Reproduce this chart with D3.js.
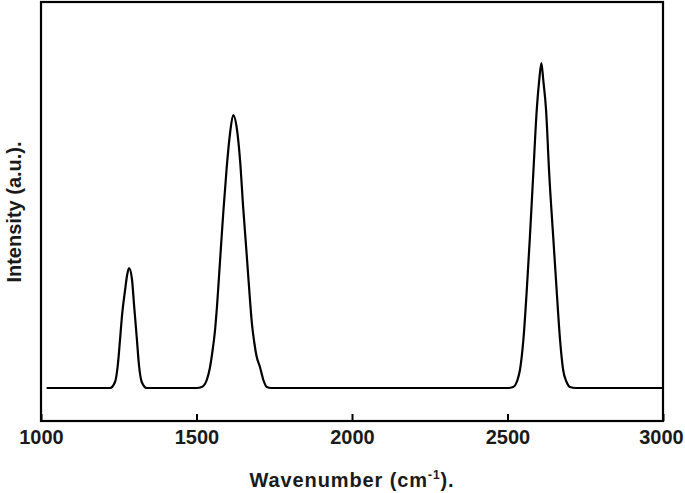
<!DOCTYPE html>
<html>
<head>
<meta charset="utf-8">
<script src="https://cdn.jsdelivr.net/npm/d3@7"></script>
<style>
  body { margin: 0; background: #fff; }
  svg { display: block; }
  .tick text { font-family: "Liberation Sans", Arial, sans-serif; font-weight: bold; font-size: 20px; fill: #1a1a1a; }
</style>
</head>
<body>
<div id="plot"></div>
<script>
// spectrum (wavenumber in cm-1, intensity in a.u.)
var wavenumber = [1018, 1200, 1222, 1238, 1247, 1254, 1261, 1270, 1277, 1283, 1292, 1300, 1308, 1315, 1324, 1340, 1360,
                  1500, 1517, 1533, 1543, 1551, 1559, 1566, 1575, 1586, 1597, 1608, 1618, 1629, 1640, 1650, 1661, 1672, 1678, 1686, 1693, 1704, 1715, 1726, 1740, 1760,
                  2500, 2518, 2532, 2540, 2551, 2562, 2572, 2583, 2594, 2602, 2609, 2615, 2624, 2634, 2647, 2658, 2669, 2679, 2690, 2701, 2720, 2998];
var intensity  = [0, 0, 0, 6, 23, 48, 74, 97, 113, 120, 110, 80, 50, 23, 6, 0, 0,
                  0, 1, 8, 20, 36, 56, 82, 124, 175, 220, 255, 273, 261, 228, 181, 135, 88, 65, 45, 32, 21, 8, 1, 0, 0,
                  0, 1, 8, 18, 48, 98, 151, 215, 278, 308, 325, 308, 278, 215, 151, 98, 48, 18, 6, 1, 0, 0];
var xTicks = [1000, 1500, 2000, 2500, 3000];
var xDomain = [1000, 3000];
var yDomain = [-33, 386];

var width = 685, height = 493;
var margin = {top: 2, right: 22, bottom: 72, left: 41};
var dwidth = width - margin.left - margin.right,
    dheight = height - margin.top - margin.bottom;

var svg = d3.select("#plot")
    .append("svg")
    .attr("width", width)
    .attr("height", height);

var plot = svg.append("g")
    .attr("transform", "translate(" + margin.left + "," + margin.top + ")");

var x = d3.scaleLinear().domain(xDomain).range([0, dwidth]);
var y = d3.scaleLinear().domain(yDomain).range([dheight, 0]);

var data = wavenumber.map(function(d, i) { return {wn: d, v: intensity[i]}; });

var line = d3.line()
    .x(function(d) { return x(d.wn); })
    .y(function(d) { return y(d.v); })
    .curve(d3.curveMonotoneX);

plot.append("path")
    .datum(data)
    .attr("fill", "none")
    .attr("stroke", "#000")
    .attr("stroke-width", 2.2)
    .attr("stroke-linejoin", "round")
    .attr("d", line);

var xAxis = plot.append("g")
    .attr("transform", "translate(0," + dheight + ")")
    .call(d3.axisBottom(x)
          .tickValues(xTicks)
          .tickSizeInner(-7)
          .tickSizeOuter(0)
          .tickPadding(9)
          .tickFormat(d3.format("d")));
xAxis.select(".domain").remove();
xAxis.selectAll(".tick line").attr("stroke", "#000").attr("stroke-width", 2);
// last label sits against the right edge
xAxis.selectAll(".tick text").filter(function(d) { return d == 3000; }).attr("dx", -2);

// frame
plot.append("rect")
    .attr("x", 0)
    .attr("y", 0)
    .attr("width", dwidth)
    .attr("height", dheight)
    .attr("fill", "none")
    .attr("stroke", "#000")
    .attr("stroke-width", 2.2);

var title = svg.append("text")
    .attr("x", margin.left + dwidth / 2)
    .attr("y", 487)
    .attr("text-anchor", "middle")
    .attr("font-family", "Liberation Sans, Arial, sans-serif")
    .attr("font-weight", "bold")
    .style("font-size", "20px")
    .style("letter-spacing", "0.9px")
    .attr("fill", "#1a1a1a");
title.append("tspan").text("Wavenumber (cm");
title.append("tspan").attr("dy", -8).style("font-size", "12px").text("-1");
title.append("tspan").attr("dy", 8).text(").");

svg.append("text")
    .attr("transform", "translate(21," + (margin.top + 210) + ") rotate(-90)")
    .attr("text-anchor", "middle")
    .attr("font-family", "Liberation Sans, Arial, sans-serif")
    .attr("font-weight", "bold")
    .style("font-size", "20px")
    .attr("fill", "#1a1a1a")
    .text("Intensity (a.u.).");
</script>
</body>
</html>
